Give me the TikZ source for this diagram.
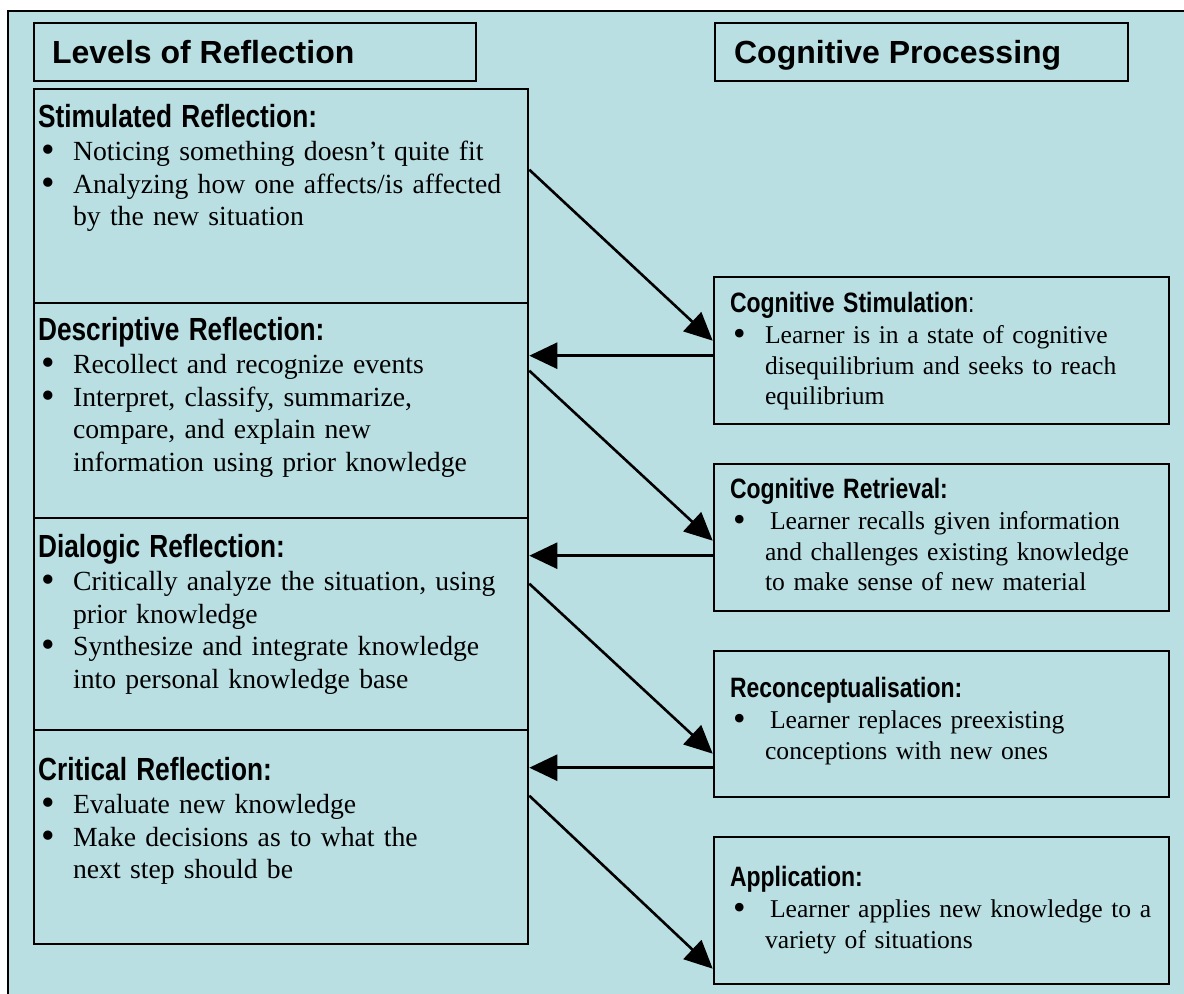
\documentclass[tikz,border=0pt]{standalone}
\usepackage{fontspec}
\setmainfont{Liberation Serif}
\newfontfamily\narrowsans[FakeStretch=0.82]{Liberation Sans}
\newfontfamily\titlesans{Liberation Sans}
\usetikzlibrary{arrows.meta,calc,fit}

\definecolor{panelbg}{RGB}{185,223,227}

\newcommand{\lhead}[1]{{\fontsize{16}{16}\narrowsans\bfseries #1}\par\vspace{0.5pt}}
\newcommand{\rhead}[1]{{\fontsize{14}{14}\narrowsans\bfseries #1}\par\vspace{0.5pt}}
\newcommand{\bitem}[1]{\hangindent=17.5pt\hangafter=1\noindent\hbox to 17.5pt{\hspace{1.5pt}\raisebox{-1.1pt}{\scalebox{1.4}{\textbullet}}\hfil}#1\par}

\begin{document}
\begin{tikzpicture}[x=0.5pt,y=-0.5pt]
            \tikzset{box/.style = {draw, line width=1.3pt, inner sep=0pt}}
            \tikzset{title/.style = {anchor=base west, inner sep=0pt, font=\fontsize{16}{16}\titlesans\bfseries}}
            \tikzset{lefttxt/.style = {anchor=north west, inner sep=0pt, text width=235pt, align=left, font=\fontsize{13.85}{16.25}\selectfont}}
            \tikzset{righttxt/.style = {anchor=north west, inner sep=0pt, text width=230pt, align=left, font=\fontsize{12.8}{15.2}\selectfont}}
            \tikzset{arrow/.style = {line width=1.3pt, -{Triangle[length=14pt,width=13pt]}}}

            \useasboundingbox (0,0) rectangle (1184,994);
            \fill[panelbg] (8,11) rectangle (1184,994);
            \draw[line width=1pt] (8,994) -- (8,11) -- (1184,11);

            % titles
            \node[box, fit={(34,23) (476,81)}] (levels) {};
            \node[title] (levels-txt) at ($(levels.west)+(19,11.5)$) {Levels of Reflection};
            \node[box, fit={(715,23) (1128,81)}] (cogproc) {};
            \node[title] (cogproc-txt) at ($(cogproc.west)+(20,11.5)$) {Cognitive Processing};

            % levels of reflection
            \node[box, fit={(34,89) (528,303)}] (stim) {};
            \node[box, fit={(34,303) (528,518)}] (desc) {};
            \node[box, fit={(34,518) (528,730)}] (dial) {};
            \node[box, fit={(34,730) (528,944)}] (crit) {};

            \node[lefttxt] (stim-txt) at ($(stim.north west)+(5,16)$) {\lhead{Stimulated Reflection:}
              \bitem{Noticing something doesn’t quite fit}
              \bitem{Analyzing how one affects/is affected\newline by the new situation}};
            \node[lefttxt] (desc-txt) at ($(desc.north west)+(5,15)$) {\lhead{Descriptive Reflection:}
              \bitem{Recollect and recognize events}
              \bitem{Interpret, classify, summarize,\newline compare, and explain new\newline information using prior knowledge}};
            \node[lefttxt] (dial-txt) at ($(dial.north west)+(5,17)$) {\lhead{Dialogic Reflection:}
              \bitem{Critically analyze the situation, using\newline prior knowledge}
              \bitem{Synthesize and integrate knowledge\newline into personal knowledge base}};
            \node[lefttxt] (crit-txt) at ($(crit.north west)+(5,28)$) {\lhead{Critical Reflection:}
              \bitem{Evaluate new knowledge}
              \bitem{Make decisions as to what the\newline next step should be}};

            % cognitive processing
            \node[box, fit={(714,277) (1169,424)}] (cstim) {};
            \node[box, fit={(714,464) (1169,611)}] (cretr) {};
            \node[box, fit={(714,651) (1169,797)}] (recon) {};
            \node[box, fit={(714,837) (1169,984)}] (appl) {};

            \node[righttxt] (cstim-txt) at ($(cstim.north west)+(17,16)$) {\rhead{Cognitive Stimulation{\mdseries :}}
              \bitem{Learner is in a state of cognitive\newline disequilibrium and seeks to reach\newline equilibrium}};
            \node[righttxt] (cretr-txt) at ($(cretr.north west)+(17,15)$) {\rhead{Cognitive Retrieval:}
              \bitem{\hspace{2.5pt}Learner recalls given information\newline and challenges existing knowledge\newline to make sense of new material}};
            \node[righttxt] (recon-txt) at ($(recon.north west)+(17,27)$) {\rhead{Reconceptualisation:}
              \bitem{\hspace{2.5pt}Learner replaces preexisting\newline conceptions with new ones}};
            \node[righttxt] (appl-txt) at ($(appl.north west)+(17,30)$) {\rhead{Application:}
              \bitem{\hspace{2.5pt}Learner applies new knowledge to a\newline variety of situations}};

            % arrows
            \foreach \src/\srcy/\dst/\dsty in {stim/82/cstim/65, desc/69/cretr/78, dial/67/recon/104, crit/67/appl/133}
            {
              \draw[arrow] ($(\src.north east)+(0,\srcy)$) -- ($(\dst.north west)+(0,\dsty)$);
            }
            \foreach \src/\srcy/\dst/\dsty in {cstim/80/desc/54, cretr/93/dial/39, recon/118/crit/39}
            {
              \draw[arrow] ($(\src.north west)+(0,\srcy)$) -- ($(\dst.north east)+(0,\dsty)$);
            }

          \end{tikzpicture}
\end{document}
